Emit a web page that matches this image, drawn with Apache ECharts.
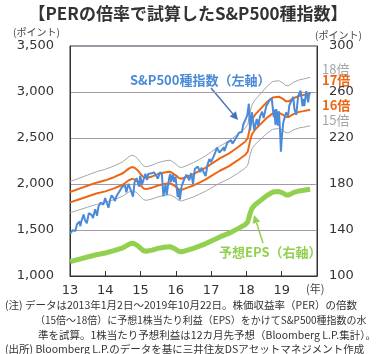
<!DOCTYPE html>
<html>
<head>
<meta charset="utf-8">
<script src="https://cdn.jsdelivr.net/npm/echarts@6/dist/echarts.min.js"></script>
<style>
  html, body { margin: 0; background: #fff; }
  #chart { width: 376px; height: 354px; }
</style>
</head>
<body>
<div id="chart"></div>
<script>
// 年ラベル
const yearLabels = ['13', '14', '15', '16', '17', '18', '19'];

// S&P500種指数（左軸）
const spxDates = [
  '2013-01-02','2013-01-15','2013-01-31','2013-02-15','2013-02-25','2013-03-14','2013-03-28','2013-04-11','2013-04-18','2013-04-30',
  '2013-05-21','2013-06-05','2013-06-24','2013-07-15','2013-07-31','2013-08-15','2013-08-27','2013-09-18','2013-10-08','2013-10-22',
  '2013-11-15','2013-11-27','2013-12-12','2013-12-31',
  '2014-01-15','2014-02-03','2014-02-20','2014-03-07','2014-03-27','2014-04-11','2014-04-25','2014-05-15','2014-05-30','2014-06-20',
  '2014-07-24','2014-08-07','2014-08-29','2014-09-18','2014-10-15','2014-10-31','2014-11-21','2014-12-05','2014-12-16','2014-12-29',
  '2015-01-15','2015-01-30','2015-02-20','2015-03-10','2015-03-20','2015-04-24','2015-05-20','2015-06-15','2015-06-29','2015-07-20',
  '2015-08-10','2015-08-25','2015-09-16','2015-09-28','2015-10-22','2015-11-03','2015-11-13','2015-12-01','2015-12-14','2015-12-29',
  '2016-01-20','2016-02-01','2016-02-11','2016-03-01','2016-03-31','2016-04-20','2016-05-19','2016-06-08','2016-06-27','2016-07-15',
  '2016-08-15','2016-09-09','2016-09-22','2016-10-13','2016-11-04','2016-11-25','2016-12-13','2016-12-30',
  '2017-01-26','2017-02-15','2017-03-01','2017-03-27','2017-04-13','2017-05-16','2017-05-17','2017-06-19','2017-07-27','2017-08-10',
  '2017-08-21','2017-09-20','2017-10-16','2017-11-15','2017-11-30','2017-12-18',
  '2018-01-10','2018-01-26','2018-02-08','2018-02-26','2018-03-09','2018-03-23','2018-04-02','2018-04-18','2018-05-03','2018-05-21',
  '2018-06-12','2018-06-28','2018-07-25','2018-08-10','2018-08-29','2018-09-20','2018-10-03','2018-10-11','2018-10-17','2018-10-29',
  '2018-11-07','2018-11-23','2018-12-03','2018-12-14','2018-12-24',
  '2019-01-04','2019-01-18','2019-02-15','2019-03-08','2019-03-21','2019-04-12','2019-04-30','2019-05-13','2019-05-31','2019-06-20',
  '2019-07-15','2019-07-26','2019-08-05','2019-08-13','2019-08-23','2019-09-12','2019-09-19','2019-10-02','2019-10-11','2019-10-22'
];
const spxValues = [
  1462,1472,1498,1519,1488,1563,1569,1593,1541,1598,
  1669,1608,1573,1683,1686,1661,1630,1725,1656,1754,
  1798,1807,1775,1848,
  1848,1742,1828,1878,1849,1815,1863,1870,1924,1963,
  1987,1910,2003,2011,1862,2018,2064,2075,1972,2090,
  1992,1995,2110,2044,2108,2117,2126,2084,2057,2128,
  2104,1867,1996,1881,2052,2109,2023,2103,2022,2078,
  1859,1939,1829,1978,2060,2102,2040,2119,2001,2162,
  2190,2128,2177,2133,2085,2213,2271,2239,
  2297,2349,2396,2342,2329,2400,2357,2453,2475,2438,
  2428,2508,2557,2565,2647,2690,
  2748,2873,2581,2780,2786,2588,2582,2708,2630,2733,
  2786,2716,2846,2833,2914,2931,2925,2728,2809,2641,
  2814,2633,2790,2600,2351,
  2532,2671,2776,2743,2854,2907,2946,2812,2752,2954,
  3014,3025,2845,2926,2847,3009,3006,2887,2970,2996
];

// 予想EPS（右軸）
const epsDates = [
  '2013-01-02','2013-04-01','2013-07-01','2013-10-01','2014-01-02','2014-04-01','2014-07-01','2014-09-01','2014-10-01','2014-11-01',
  '2014-12-01','2015-01-02','2015-02-01','2015-03-01','2015-05-01','2015-07-01','2015-09-01','2015-11-01','2015-12-01','2016-01-04',
  '2016-02-01','2016-03-01','2016-05-01','2016-07-01','2016-09-01','2016-11-01','2017-01-03','2017-04-01','2017-07-01','2017-10-01',
  '2017-12-15','2018-01-15','2018-02-10','2018-03-01','2018-04-01','2018-06-01','2018-08-01','2018-10-01','2018-12-01','2019-01-15',
  '2019-02-15','2019-03-15','2019-05-01','2019-07-01','2019-08-15','2019-10-22'
];
const epsValues = [
  112.5,114.5,116.5,118.5,120,122,124.5,127.5,128.5,128,
  126.5,124,122,121.5,122.5,124,125,125.5,124.5,123,
  121.5,121,122.5,124,126,128,130.5,134,137,141,
  144.5,147,155,159,162,166,170,173,173.5,172,
  170.5,170.5,172.5,174,174.5,175.5
];

// PER倍率（倍）
const perMultiples = [18, 17, 16, 15];
const perLabels = ['18倍', '17倍', '16倍', '15倍'];

const toYear = (d) => {
  const [y, m, dd] = d.split('-').map(Number);
  return y + (Date.UTC(y, m - 1, dd) - Date.UTC(y, 0, 1)) / (365.25 * 86400000);
};

const FONT = '"DejaVu Sans", "Noto Sans CJK JP", sans-serif';
const JP = '"Noto Sans CJK JP", sans-serif';
const GRAY = '#a6a6a6';
const ORANGE = '#ee6614';
const BLUE = '#4a8ad8';
const GREEN = '#92d050';

const bandColors = [GRAY, ORANGE, ORANGE, GRAY];
const bandWidths = [1, 2, 2, 1];

const bandSeries = perMultiples.map((m, i) => ({
  type: 'line',
  name: perLabels[i],
  yAxisIndex: 0,
  showSymbol: false,
  silent: true,
  data: epsDates.map((d, j) => [toYear(d), epsValues[j] * m]),
  lineStyle: { color: bandColors[i], width: bandWidths[i] },
  z: 2
}));

function arrow(x1, y1, x2, y2, color) {
  const a = Math.atan2(y2 - y1, x2 - x1);
  const L = 8, W = 4;
  const bx = x2 - L * Math.cos(a), by = y2 - L * Math.sin(a);
  const px = -Math.sin(a) * W, py = Math.cos(a) * W;
  return [
    { type: 'line', shape: { x1, y1, x2: bx, y2: by }, style: { stroke: color, lineWidth: 1.5 } },
    { type: 'polygon', shape: { points: [[x2, y2], [bx + px, by + py], [bx - px, by - py]] }, style: { fill: color } }
  ];
}

const chart = echarts.init(document.getElementById('chart'));

const option = {
  animation: false,
  grid: {
    left: 70, right: 59, top: 46, bottom: 78,
    show: true, borderColor: '#333', borderWidth: 1
  },
  xAxis: {
    type: 'value',
    min: 2013, max: 2020, interval: 1,
    axisLine: { lineStyle: { color: '#333' } },
    axisTick: { inside: true, length: 5, lineStyle: { color: '#333' } },
    axisLabel: {
      color: '#333', fontSize: 13, fontFamily: FONT, margin: 8,
      formatter: (v) => yearLabels[v - 2013] || ''
    },
    splitLine: { show: false }
  },
  yAxis: [
    {
      type: 'value',
      min: 1000, max: 3500, interval: 500,
      axisLine: { show: true, lineStyle: { color: '#333' } },
      axisTick: { show: false },
      axisLabel: {
        color: '#333', fontSize: 13, fontFamily: FONT, margin: 16,
        formatter: (v) => v.toLocaleString('en-US')
      },
      splitLine: { lineStyle: { color: '#a39aae', width: 1 } }
    },
    {
      type: 'value',
      min: 100, max: 300, interval: 40,
      position: 'right',
      axisLine: { show: true, lineStyle: { color: '#333' } },
      axisTick: { show: false },
      axisLabel: { color: '#333', fontSize: 13, fontFamily: FONT, margin: 12 },
      splitLine: { show: false }
    }
  ],
  series: [
    ...bandSeries,
    {
      type: 'line',
      name: 'S&P500',
      yAxisIndex: 0,
      showSymbol: false,
      data: spxDates.map((d, i) => [toYear(d), spxValues[i]]),
      lineStyle: { color: BLUE, width: 2 },
      z: 3
    },
    {
      type: 'line',
      name: 'EPS',
      yAxisIndex: 1,
      showSymbol: false,
      data: epsDates.map((d, i) => [toYear(d), epsValues[i]]),
      lineStyle: { color: GREEN, width: 5 },
      z: 4
    }
  ],
  graphic: [
    { type: 'text', left: 'center', top: 5,
      style: { text: '【PERの倍率で試算したS&P500種指数】', font: 'bold 17px ' + JP, fill: '#333' } },
    { type: 'text', x: 13, y: 27, style: { text: '(ポイント)', font: '10px ' + JP, fill: '#444' } },
    { type: 'text', x: 315, y: 30, style: { text: '(ポイント)', font: '10px ' + JP, fill: '#444' } },
    { type: 'text', x: 306, y: 283, style: { text: '(年)', font: '11px ' + JP, fill: '#444' } },
    { type: 'text', x: 322, y: 63, style: { text: perLabels[0], font: '13px ' + JP, fill: GRAY } },
    { type: 'text', x: 322, y: 74, style: { text: perLabels[1], font: 'bold 13px ' + JP, fill: ORANGE } },
    { type: 'text', x: 322, y: 99, style: { text: perLabels[2], font: 'bold 13px ' + JP, fill: ORANGE } },
    { type: 'text', x: 322, y: 114, style: { text: perLabels[3], font: '13px ' + JP, fill: GRAY } },
    { type: 'text', x: 130, y: 74, style: { text: 'S&P500種指数（左軸）', font: 'bold 13px ' + JP, fill: BLUE } },
    { type: 'text', x: 219, y: 246, style: { text: '予想EPS（右軸）', font: 'bold 13px ' + JP, fill: GREEN } },
    ...arrow(211, 88, 238, 120, '#4272b8'),
    ...arrow(263, 243, 254, 215, GREEN),
    { type: 'text', x: 5, y: 300, style: { text: '(注) データは2013年1月2日～2019年10月22日。株価収益率（PER）の倍数', font: '10.5px ' + JP, fill: '#333' } },
    { type: 'text', x: 35, y: 315, style: { text: '（15倍～18倍）に予想1株当たり利益（EPS）をかけてS&P500種指数の水', font: '10px ' + JP, fill: '#333' } },
    { type: 'text', x: 38, y: 330, style: { text: '準を試算。1株当たり予想利益は12カ月先予想（Bloomberg L.P.集計）。', font: '10.5px ' + JP, fill: '#333' } },
    { type: 'text', x: 5, y: 344, style: { text: '(出所) Bloomberg L.P.のデータを基に三井住友DSアセットマネジメント作成', font: '10.5px ' + JP, fill: '#333' } }
  ]
};

chart.setOption(option);
</script>
</body>
</html>
